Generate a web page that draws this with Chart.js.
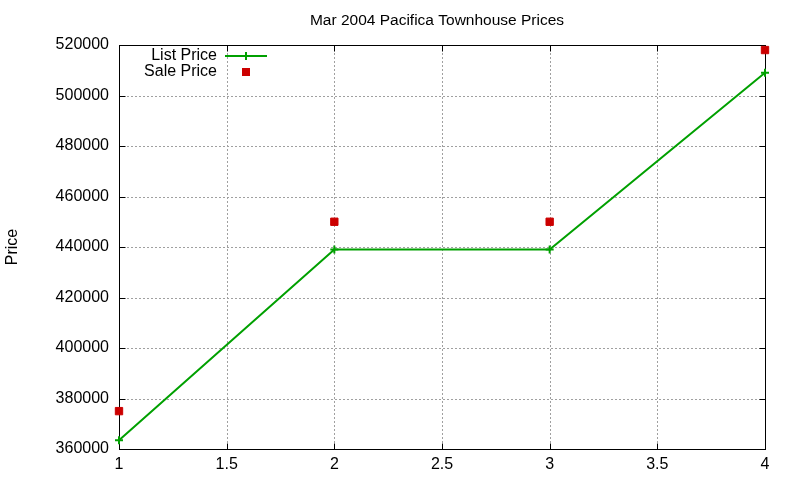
<!DOCTYPE html>
<html><head><meta charset="utf-8">
<script src="https://cdn.jsdelivr.net/npm/chart.js@4/dist/chart.umd.min.js"></script>
<style>html,body{margin:0;padding:0;background:#fff;overflow:hidden}</style>
</head><body>
<canvas id="c" width="800" height="480"></canvas>
<script>
const chartTitle = 'Mar 2004 Pacifica Townhouse Prices';
const yAxisLabel = 'Price';
const seriesNames = ['List Price', 'Sale Price'];
const categories = [1, 2, 3, 4];
const listPrice = [363500, 439000, 439000, 509000];
const salePrice = [375000, 450000, 450000, 518000];
const xTicks = [1, 1.5, 2, 2.5, 3, 3.5, 4];
const yTicks = [360000, 380000, 400000, 420000, 440000, 460000, 480000, 500000, 520000];

const FONT = "'Liberation Sans', Arial, sans-serif";
const FS = 16;
const GREEN = '#00a000';
const RED = '#cc0000';

const gnuplotFrame = {
  id: 'gnuplotFrame',
  beforeDatasetsDraw(chart) {
    const {ctx, chartArea: a, scales: {x, y}} = chart;
    ctx.save();
    ctx.strokeStyle = '#a0a0a0';
    ctx.lineWidth = 1;
    ctx.setLineDash([2, 2]);
    xTicks.forEach(v => {
      const px = Math.round(x.getPixelForValue(v)) + 0.5;
      ctx.beginPath(); ctx.moveTo(px, a.top); ctx.lineTo(px, a.bottom); ctx.stroke();
    });
    yTicks.forEach(v => {
      const py = Math.round(y.getPixelForValue(v)) + 0.5;
      ctx.beginPath(); ctx.moveTo(a.left, py); ctx.lineTo(a.right, py); ctx.stroke();
    });
    ctx.setLineDash([]);
    ctx.strokeStyle = '#000';
    const L = Math.round(a.left) + 0.5, R = Math.round(a.right) + 0.5;
    const T = Math.round(a.top) + 0.5, B = Math.round(a.bottom) + 0.5;
    ctx.strokeRect(L, T, R - L, B - T);
    const tl = 6;
    xTicks.forEach(v => {
      const px = Math.round(x.getPixelForValue(v)) + 0.5;
      ctx.beginPath();
      ctx.moveTo(px, B); ctx.lineTo(px, B - tl);
      ctx.moveTo(px, T); ctx.lineTo(px, T + tl);
      ctx.stroke();
    });
    yTicks.forEach(v => {
      const py = Math.round(y.getPixelForValue(v)) + 0.5;
      ctx.beginPath();
      ctx.moveTo(L, py); ctx.lineTo(L + tl, py);
      ctx.moveTo(R, py); ctx.lineTo(R - tl, py);
      ctx.stroke();
    });
    ctx.restore();
  },
  afterDraw(chart) {
    const {ctx, chartArea: a} = chart;
    ctx.save();
    ctx.fillStyle = '#000';
    ctx.textBaseline = 'middle';
    // title, centred over the plot
    ctx.font = '15.5px ' + FONT;
    ctx.textAlign = 'center';
    ctx.fillText(chartTitle, (a.left + a.right) / 2 - 5, 21);
    // legend
    ctx.font = FS + 'px ' + FONT;
    ctx.textAlign = 'right';
    const tx = a.left + 98, sx0 = a.left + 106, sx1 = a.left + 148, cx = a.left + 127;
    const y1 = a.top + 11, y2 = a.top + 27;
    ctx.fillText(seriesNames[0], tx, y1);
    ctx.fillText(seriesNames[1], tx, y2);
    ctx.strokeStyle = GREEN; ctx.lineWidth = 2;
    ctx.beginPath(); ctx.moveTo(sx0, y1); ctx.lineTo(sx1, y1);
    ctx.moveTo(cx, y1 - 4); ctx.lineTo(cx, y1 + 4); ctx.stroke();
    ctx.fillStyle = RED;
    ctx.fillRect(cx - 4, y2 - 4, 8, 8);
    ctx.restore();
  }
};

new Chart(document.getElementById('c'), {
  type: 'line',
  data: {
    datasets: [
      {
        label: seriesNames[0],
        data: categories.map((c, i) => ({x: c, y: listPrice[i]})),
        borderColor: GREEN, backgroundColor: GREEN,
        borderWidth: 2, pointStyle: 'cross', pointRadius: 4,
        pointBorderWidth: 2, pointBorderColor: GREEN,
        fill: false, tension: 0, clip: false
      },
      {
        label: seriesNames[1],
        data: categories.map((c, i) => ({x: c, y: salePrice[i]})),
        showLine: false,
        borderColor: RED, backgroundColor: RED,
        pointStyle: 'rect', pointRadius: 5.2, pointBorderWidth: 1,
        pointBorderColor: RED, pointBackgroundColor: RED, clip: false
      }
    ]
  },
  options: {
    responsive: false,
    animation: false,
    devicePixelRatio: 1,
    layout: {padding: {left: 0, right: 35, top: 45, bottom: 0}},
    plugins: {
      legend: {display: false},
      tooltip: {enabled: false},
      title: {display: false}
    },
    scales: {
      x: {
        type: 'linear', min: 1, max: 4,
        grid: {display: false, drawTicks: false},
        border: {display: false},
        afterBuildTicks: s => { s.ticks = xTicks.map(v => ({value: v})); },
        afterFit: s => { s.height = 31; s.paddingLeft = 0; s.paddingRight = 0; },
        ticks: {color: '#000', padding: 6, maxRotation: 0, autoSkip: false,
          font: {family: FONT, size: FS}, callback: v => String(v)}
      },
      y: {
        type: 'linear', min: 360000, max: 520000,
        grid: {display: false, drawTicks: false},
        border: {display: false},
        afterBuildTicks: s => { s.ticks = yTicks.map(v => ({value: v})); },
        afterFit: s => { s.width = 119; s.paddingTop = 0; s.paddingBottom = 0; },
        title: {display: true, text: yAxisLabel, color: '#000',
          font: {family: FONT, size: FS}, padding: {top: 3, bottom: 0}},
        ticks: {color: '#000', padding: 10, autoSkip: false,
          font: {family: FONT, size: FS}, callback: v => String(v)}
      }
    }
  },
  plugins: [gnuplotFrame]
});
</script>
</body></html>
